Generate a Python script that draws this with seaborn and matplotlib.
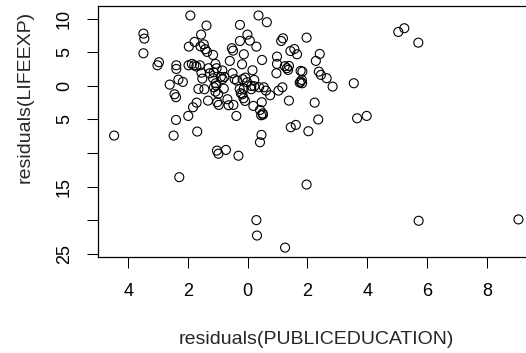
import matplotlib
matplotlib.use("Agg")
import matplotlib.pyplot as plt
import seaborn as sns
import pandas as pd

# residuals(PUBLICEDUCATION)
resid_edu = [
    -1.92, 0.36, 0.64, -0.26, -1.38, -3.49, -3.46, -3.49, -0.01, 0.07,
    -0.26, -1.56, -1.78, -1.47, -1.42, -1.36, -1.97, -1.16, -0.53, -0.49,
    -0.13, 0.29, 0.48, -2.97, -3.02, -2.39, -2.39, -1.98, -1.87, -1.79,
    -1.60, -1.55, -1.52, -1.31, -1.08, -1.04, -0.60, -0.19, 0.16, -1.14,
    -0.90, -0.78, -0.84, -0.51, -0.44, -0.36, -0.17, -0.08, -0.02, 0.22,
    -2.61, -2.32, -2.17, -2.45, -2.40, -1.65, -1.45, -1.13, -1.05, -1.08,
    -0.99, -0.80, -1.33, -1.71, -1.83, -1.99, -1.02, -0.97, -0.68, -0.64,
    -0.48, -0.38, -0.27, -0.13, -0.23, -0.18, -0.14, -0.09, 0.12, 0.19,
    0.38, 0.54, 0.61, 0.75, 0.47, 0.41, 0.45, 0.51, 1.03, 1.16,
    0.96, 0.98, 0.98, 1.12, 1.18, 1.24, 1.31, 1.38, 1.43, 1.56,
    1.65, 1.38, 1.44, 1.61, -4.47, -2.48, -1.69, -2.40, 0.46, -1.03,
    -0.98, -0.73, -0.31, -2.29, 0.41, 0.29, 0.31, 1.25, 2.03, 2.36,
    3.66, 3.98, 1.97, 5.72, 9.06, 5.04, 5.24, 5.71, 1.97, 2.41,
    2.28, 1.35, 1.77, 1.83, 1.77, 1.81, 1.82, 1.74, 2.38, 2.45,
    2.64, 2.84, 3.55, 2.24, -1.58, -1.72, -0.85, -1.27, -1.16, -1.07,
    0.50, 0.22, 0.12,
]

# residuals(LIFEEXP)
resid_life = [
    10.5, 10.5, 9.5, 9.1, 9.0, 7.8, 7.05, 4.87, 7.65, 6.75,
    6.7, 7.65, 6.56, 6.2, 5.47, 5.07, 5.86, 4.62, 5.62, 5.26,
    4.72, 5.86, 3.87, 3.53, 3.08, 3.08, 2.53, 3.08, 3.28, 3.08,
    3.08, 1.98, 1.09, 2.64, 3.28, 2.64, 3.73, 3.23, 2.34, 2.04,
    1.34, 1.34, 1.04, 1.89, 1.0, 0.79, 1.0, 1.24, 0.55, 0.89,
    0.2, 0.94, 0.6, -1.24, -1.68, -0.45, -0.49, -0.2, 0.05, -0.85,
    -1.19, -0.4, -2.19, -2.49, -3.18, -4.47, -2.43, -2.83, -1.98, -2.88,
    -2.83, -4.47, -0.45, -0.4, -1.09, -1.24, -1.83, -2.24, -0.49, -2.98,
    -0.2, -0.2, -0.7, -1.39, -2.43, -3.58, -4.37, -4.28, -0.7, -0.2,
    1.89, 3.28, 4.37, 6.7, 7.1, 2.94, 2.64, 2.98, 5.2, 5.5,
    4.72, -2.19, -6.16, -5.81, -7.4, -7.4, -6.8, -5.07, -7.3, -9.64,
    -10.1, -9.54, -10.4, -13.6, -8.4, -20.0, -22.3, -24.1, -6.75, -5.0,
    -4.82, -4.47, -14.7, -20.1, -19.9, 8.05, 8.6, 6.45, 7.2, 4.77,
    3.73, 2.39, 2.24, 2.14, 0.64, 0.89, 0.4, 0.49, 2.13, 1.64,
    1.15, -0.1, 0.4, -2.49, 5.9, 2.9, 2.3, 1.89, 1.15, 0.4,
    -4.1, -0.05, 0.0,
]

x_ticks = [-4, -2, 0, 2, 4, 6, 8]
x_tick_labels = ["4", "2", "0", "2", "4", "6", "8"]
y_ticks = [10, 5, 0, -5, -10, -15, -20, -25]
y_tick_labels = ["10", "5", "0", "5", "", "15", "", "25"]

df = pd.DataFrame({"edu": resid_edu, "life": resid_life})

sns.set_style("ticks")
plt.rcParams["font.family"] = ["Liberation Sans", "DejaVu Sans"]

fig = plt.figure(figsize=(5.26, 3.53), dpi=100)
ax = fig.add_axes([98 / 526, 1 - 257 / 353, 436.6 / 526, 250.9 / 353])

sns.scatterplot(data=df, x="edu", y="life", ax=ax, marker="o",
                facecolor="none", edgecolor="black", linewidth=0.8, s=42,
                legend=False)

ax.set_xlim(-5.01, 9.6)
ax.set_ylim(-25.5, 11.9)

ax.set_xticks(x_ticks)
ax.set_xticklabels(x_tick_labels)
ax.set_yticks(y_ticks)
ax.set_yticklabels(y_tick_labels, rotation=90, va="center")

ax.tick_params(axis="both", direction="out", length=8, width=0.75,
               color="black", labelsize=13, labelcolor="black")
ax.tick_params(axis="x", pad=11)
ax.tick_params(axis="y", pad=10)

for sp in ax.spines.values():
    sp.set_visible(True)
    sp.set_color("black")
    sp.set_linewidth(0.9)

ax.set_xlabel("residuals(PUBLICEDUCATION)", fontsize=14)
ax.xaxis.label.set_va("center")
ax.xaxis.set_label_coords(0.5, (257 - 339) / 250.9)

ax.set_ylabel("residuals(LIFEEXP)", fontsize=14)
ax.yaxis.label.set_va("center")
ax.yaxis.label.set_ha("center")
ax.yaxis.set_label_coords((25 - 98) / 436.6, (257 - 97) / 250.9)

fig.savefig("out.png", dpi=100, facecolor="white")
